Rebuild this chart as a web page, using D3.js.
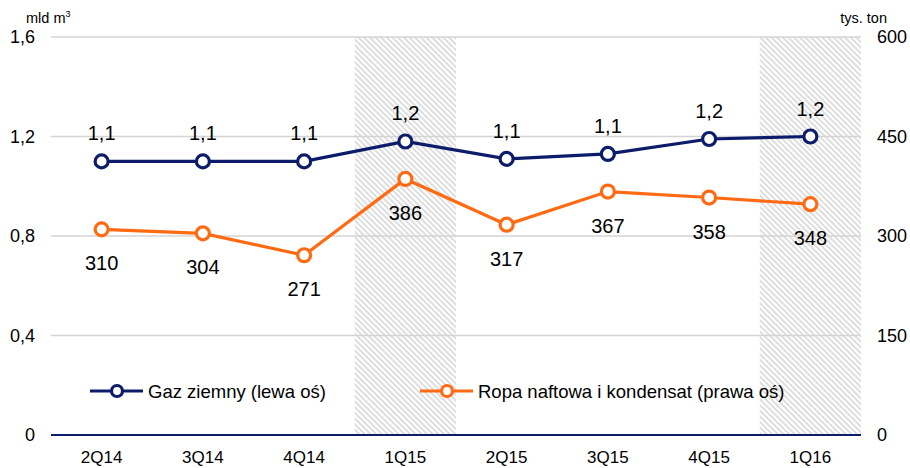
<!DOCTYPE html>
<html><head><meta charset="utf-8">
<script src="https://cdn.jsdelivr.net/npm/d3@7/dist/d3.min.js"></script>
<style>body{margin:0;background:#fff}svg{display:block;font-family:"Liberation Sans",Arial,sans-serif}</style>
</head><body><svg id="c" width="910" height="468"></svg>
<script>
const categories = ["2Q14","3Q14","4Q14","1Q15","2Q15","3Q15","4Q15","1Q16"];
const gasValues = [1.10,1.10,1.10,1.18,1.11,1.13,1.19,1.20];
const oilValues = [310,304,271,386,317,367,358,348];
const hatched = ["1Q15","1Q16"];
const leftTicks = [0,0.4,0.8,1.2,1.6];
const rightTicks = [0,150,300,450,600];
const seriesNames = ["Gaz ziemny (lewa oś)","Ropa naftowa i kondensat (prawa oś)"];

const svg = d3.select("#c");
const L=51, R=861, T=37, B=435;
const x = d3.scaleBand().domain(categories).range([L,R]);
const yL = d3.scaleLinear().domain([0,1.6]).range([B,T]);
const yR = d3.scaleLinear().domain([0,600]).range([B,T]);
const gasColor="#0c1c6b", oilColor="#ff6a13";
const fmt = v => d3.format(".1f")(v).replace(".",",");
const FF = "Liberation Sans, Arial, sans-serif";

const defs = svg.append("defs");
const pat = defs.append("pattern").attr("id","hatch").attr("patternUnits","userSpaceOnUse")
  .attr("width",4).attr("height",4).attr("patternTransform","rotate(45)");
pat.append("rect").attr("width",4).attr("height",4).attr("fill","#fff");
pat.append("rect").attr("width",4).attr("height",2).attr("fill","#dedede");

svg.selectAll(".hatch").data(hatched).join("rect")
  .attr("x",d=>x(d)).attr("width",x.bandwidth()).attr("y",T).attr("height",B-T)
  .attr("fill","url(#hatch)");

svg.selectAll(".grid").data(leftTicks.filter(d=>d>0)).join("line")
  .attr("x1",L).attr("x2",R).attr("y1",d=>yL(d)).attr("y2",d=>yL(d))
  .attr("stroke","#d4d4d4").attr("stroke-width",1.5);

svg.append("line").attr("x1",L).attr("x2",R).attr("y1",B).attr("y2",B)
  .attr("stroke",gasColor).attr("stroke-width",2);

// axes
const gl = svg.append("g").attr("transform",`translate(${L},0)`)
  .call(d3.axisLeft(yL).tickValues(leftTicks).tickSize(0).tickPadding(16).tickFormat(d=>d===0?"0":fmt(d)));
gl.select(".domain").remove();
gl.selectAll("text").attr("font-size",18).attr("fill","#000").attr("font-family",FF);

const gr = svg.append("g").attr("transform",`translate(${R},0)`)
  .call(d3.axisRight(yR).tickValues(rightTicks).tickSize(0).tickPadding(16));
gr.select(".domain").remove();
gr.selectAll("text").attr("font-size",18).attr("fill","#000").attr("font-family",FF);

const gx = svg.append("g").attr("transform",`translate(0,${B})`)
  .call(d3.axisBottom(x).tickSize(0).tickPadding(16));
gx.select(".domain").remove();
gx.selectAll("text").attr("font-size",17).attr("fill","#000").attr("font-family",FF);

svg.append("text").attr("x",26).attr("y",23).attr("font-size",14.5).text("mld m").append("tspan")
  .attr("font-size",9).attr("dy",-6).text("3");
svg.append("text").attr("x",887).attr("y",23).attr("font-size",14.5).attr("text-anchor","end").text("tys. ton");

const cx = d => x(d)+x.bandwidth()/2;
const drawSeries = (vals, y, color) => {
  const line = d3.line().x((d,i)=>cx(categories[i])).y(d=>y(d));
  svg.append("path").datum(vals).attr("d",line).attr("fill","none").attr("stroke",color).attr("stroke-width",3.2);
  svg.append("g").selectAll("circle").data(vals).join("circle")
    .attr("cx",(d,i)=>cx(categories[i])).attr("cy",d=>y(d)).attr("r",6.5)
    .attr("fill","#fff").attr("stroke",color).attr("stroke-width",3.2);
};
drawSeries(gasValues,yL,gasColor);
drawSeries(oilValues,yR,oilColor);

svg.append("g").selectAll("text").data(gasValues).join("text")
  .attr("x",(d,i)=>cx(categories[i])).attr("y",d=>yL(d)-21).attr("text-anchor","middle")
  .attr("font-size",20).text(d=>fmt(d));
svg.append("g").selectAll("text").data(oilValues).join("text")
  .attr("x",(d,i)=>cx(categories[i])).attr("y",d=>yR(d)+41).attr("text-anchor","middle")
  .attr("font-size",20).text(d=>d);

// legend
const leg = [{x:90,color:gasColor,name:seriesNames[0]},{x:420,color:oilColor,name:seriesNames[1]}];
const lg = svg.append("g");
leg.forEach(l=>{
  lg.append("line").attr("x1",l.x).attr("x2",l.x+53).attr("y1",391).attr("y2",391).attr("stroke",l.color).attr("stroke-width",3.2);
  lg.append("circle").attr("cx",l.x+27).attr("cy",391).attr("r",5.5).attr("fill","#fff").attr("stroke",l.color).attr("stroke-width",3.2);
  lg.append("text").attr("x",l.x+58).attr("y",397.5).attr("font-size",18.5).text(l.name);
});
</script></body></html>
